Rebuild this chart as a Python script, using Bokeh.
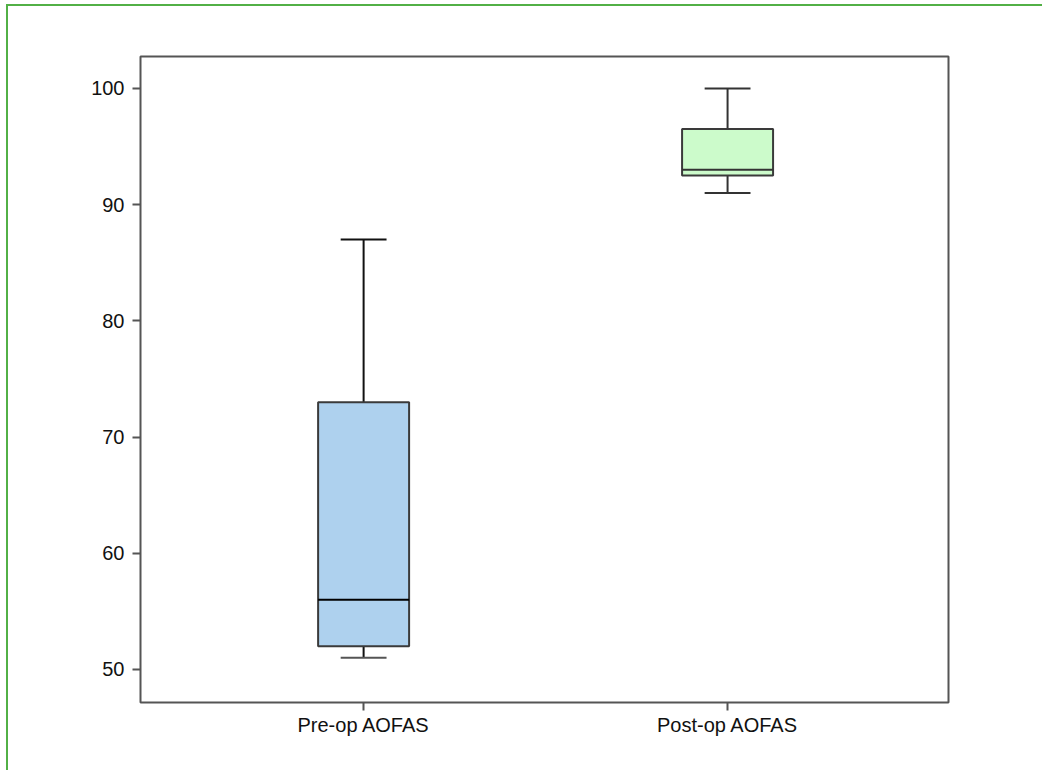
from bokeh.plotting import figure
from bokeh.models import Range1d, FixedTicker
from bokeh.embed import file_html
from bokeh.resources import INLINE

# ---- data ----
categories = ["Pre-op AOFAS", "Post-op AOFAS"]
mins = [51, 91]
q1s = [52, 92.5]
medians = [56, 93]
q3s = [73, 96.5]
maxs = [87, 100]
fills = ["#aed1ee", "#ccfbcb"]
y_ticks = [50, 60, 70, 80, 90, 100]

xs = [i + 1 for i in range(len(categories))]
box_w = 0.25
cap_w = 0.126

p = figure(width=1036, height=766, output_backend="svg", toolbar_location=None,
           x_range=Range1d(0.387, 2.607), y_range=Range1d(47.15, 102.75),
           min_border_left=132, min_border_right=96, min_border_top=50, min_border_bottom=70,
           styles={"border-top": "2px solid #52b046", "border-left": "2px solid #52b046",
                   "margin-top": "4px", "margin-left": "6px"})

p.grid.visible = False
p.outline_line_color = "#555555"
p.outline_line_width = 2
p.outline_line_alpha = 1.0

# whiskers
p.segment(x0=xs, y0=q3s, x1=xs, y1=maxs, line_color=["#111111", "#333333"], line_width=2)
p.segment(x0=xs, y0=mins, x1=xs, y1=q1s, line_color=["#111111", "#333333"], line_width=2)
caps_l = [x - cap_w / 2 for x in xs]
caps_r = [x + cap_w / 2 for x in xs]
p.segment(x0=caps_l, y0=maxs, x1=caps_r, y1=maxs, line_color=["#111111", "#333333"], line_width=2)
p.segment(x0=caps_l, y0=mins, x1=caps_r, y1=mins, line_color=["#555555", "#333333"], line_width=2)

# boxes
p.vbar(x=xs, width=box_w, bottom=q1s, top=q3s, fill_color=fills,
       line_color="#3a3a3a", line_width=2)
# medians
p.segment(x0=[x - box_w / 2 for x in xs], y0=medians, x1=[x + box_w / 2 for x in xs], y1=medians,
          line_color=["#000000", "#333333"], line_width=2)

for ax in (p.xaxis[0], p.yaxis[0]):
    ax.axis_line_color = None
    ax.major_tick_line_color = "#555555"
    ax.major_tick_line_width = 2
    ax.major_tick_in = 0
    ax.major_tick_out = 8
    ax.minor_tick_line_color = None
    ax.major_label_text_font = "Liberation Sans"
    ax.major_label_text_font_size = "20px"
    ax.major_label_text_color = "#111111"

p.yaxis.ticker = FixedTicker(ticks=y_ticks)
p.yaxis.major_label_standoff = 8
p.xaxis.ticker = FixedTicker(ticks=xs)
p.xaxis.major_label_overrides = {x: c for x, c in zip(xs, categories)}
p.xaxis.major_label_standoff = 3

open("out.html", "w").write(file_html(p, INLINE))
